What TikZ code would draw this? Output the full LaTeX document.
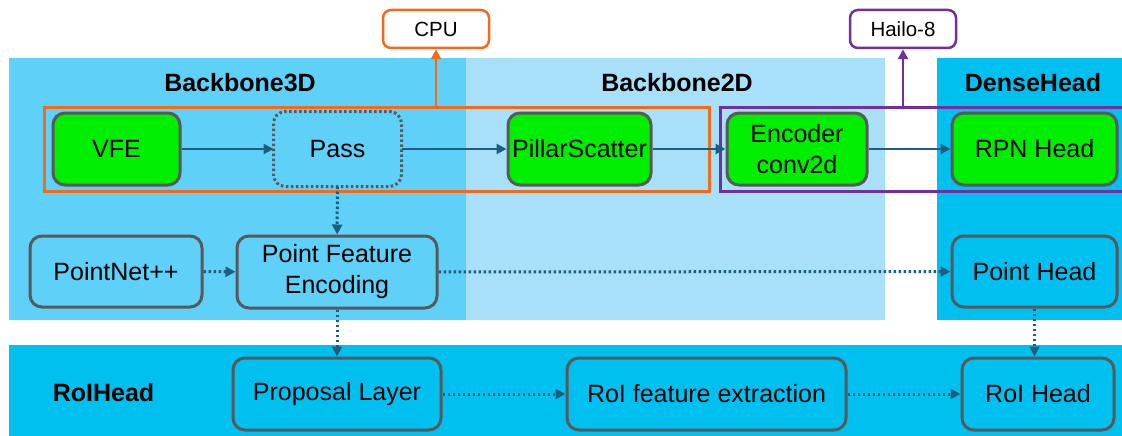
\documentclass[tikz,border=0pt]{standalone}
\usepackage{fontspec}
\setmainfont{Liberation Sans}
\usetikzlibrary{arrows.meta}
\definecolor{bgthree}{HTML}{5FD0F8}
\definecolor{bgtwo}{HTML}{A8E0FA}
\definecolor{bghead}{HTML}{00C0F0}
\definecolor{lime}{HTML}{00EE00}
\definecolor{edge}{HTML}{595959}
\definecolor{flow}{HTML}{1B5E82}
\definecolor{cpuorange}{HTML}{F26B1D}
\definecolor{npupurple}{HTML}{7030A0}
\begin{document}
\begin{tikzpicture}[x=1pt,y=-1pt,
  block/.style={draw=edge, line width=3pt, rounded corners=12pt, inner sep=0pt,
    align=center, minimum height=72pt, font=\fontsize{25}{31}\selectfont},
  accel/.style={block, fill=lime},
  grouplabel/.style={inner sep=0pt, font=\bfseries\fontsize{25}{30}\selectfont},
  devicebox/.style={fill=white, line width=2.5pt, rounded corners=8pt, inner sep=0pt,
    minimum width=106pt, minimum height=38pt, font=\fontsize{20.5}{24}\selectfont},
  groupframe/.style={line width=3pt, inner sep=0pt, minimum height=84pt},
  tip/.style={-{Triangle[length=10pt,width=10pt]}},
  solidflow/.style={flow, line width=2.8pt, tip},
  dotflow/.style={flow, line width=3pt, dash pattern=on 2.5pt off 2.5pt, tip},
]
\useasboundingbox (0,0) rectangle (1122,436);

% stage backgrounds
\fill[bgthree] (9,58) rectangle (466,320);
\fill[bgtwo] (466,58) rectangle (885,320);
\fill[bghead] (937,58) rectangle (1122,320);
\fill[bghead] (9,345) rectangle (1122,436);

% stage titles
\node[grouplabel] (lbl3d) at (240,83) {Backbone3D};
\node[grouplabel] (lbl2d) at (677,83) {Backbone2D};
\node[grouplabel] (lbldense) at (1033,83) {DenseHead};
\node[grouplabel] (lblroi) at (103.5,393) {RoIHead};

% device partitions
\node[groupframe, draw=cpuorange, minimum width=665pt] (cpugrp) at (376.5,149) {};
\node[groupframe, draw=npupurple, minimum width=405pt] (npugrp) at (922.5,149) {};
\node[devicebox, draw=cpuorange] (cpu) at (436,29) {CPU};
\node[devicebox, draw=npupurple] (hailo) at (903,29) {Hailo-8};
\draw[cpuorange, line width=2.5pt, tip] (cpu.south |- cpugrp.north) -- (cpu.south);
\draw[npupurple, line width=2.5pt, tip] (hailo.south |- npugrp.north) -- (hailo.south);

% main pipeline
\node[accel, minimum width=127pt] (vfe) at (116.5,149) {VFE};
\node[block, draw=none, minimum width=125pt] (pass) at (337.5,149) {Pass};
\draw[edge, line width=3pt, rounded corners=12pt, dash pattern=on 2.5pt off 2.5pt]
  (pass.north west) rectangle (pass.south east);
\node[accel, minimum width=143pt] (scatter) at (579.5,149) {PillarScatter};
\node[accel, minimum width=140pt] (encoder) at (797,149) {Encoder\\conv2d};
\node[accel, minimum width=165pt] (rpn) at (1034.5,149) {RPN Head};

% point branch
\node[block, fill=bgthree, minimum width=172pt, minimum height=71pt] (pointnet) at (116,271.5) {PointNet++};
\node[block, fill=bgthree, minimum width=200pt] (pfe) at (337,272) {Point Feature\\Encoding};
\node[block, fill=bghead, minimum width=165pt, minimum height=71pt] (pointhead) at (1034.5,271.5) {Point Head};

% RoI head
\node[block, fill=bghead, minimum width=208pt] (proposal) at (337,394) {Proposal Layer};
\node[block, fill=bghead, minimum width=279pt] (roifeat) at (706.5,394) {RoI feature extraction};
\node[block, fill=bghead, minimum width=152pt] (roihead) at (1038,394) {RoI Head};

% connections
\draw[solidflow] (vfe) -- (pass);
\draw[solidflow] (pass) -- (scatter);
\draw[solidflow] (scatter) -- (encoder);
\draw[solidflow] (encoder) -- (rpn);
\draw[dotflow] (pass) -- (pfe);
\draw[dotflow] (pointnet) -- (pfe);
\draw[dotflow] (pfe) -- (pointhead);
\draw[dotflow] (pfe) -- (proposal);
\draw[dotflow] (proposal) -- (roifeat);
\draw[dotflow] (roifeat) -- (roihead);
\draw[dotflow] (pointhead.south) -- (pointhead.south |- roihead.north);
\end{tikzpicture}
\end{document}
